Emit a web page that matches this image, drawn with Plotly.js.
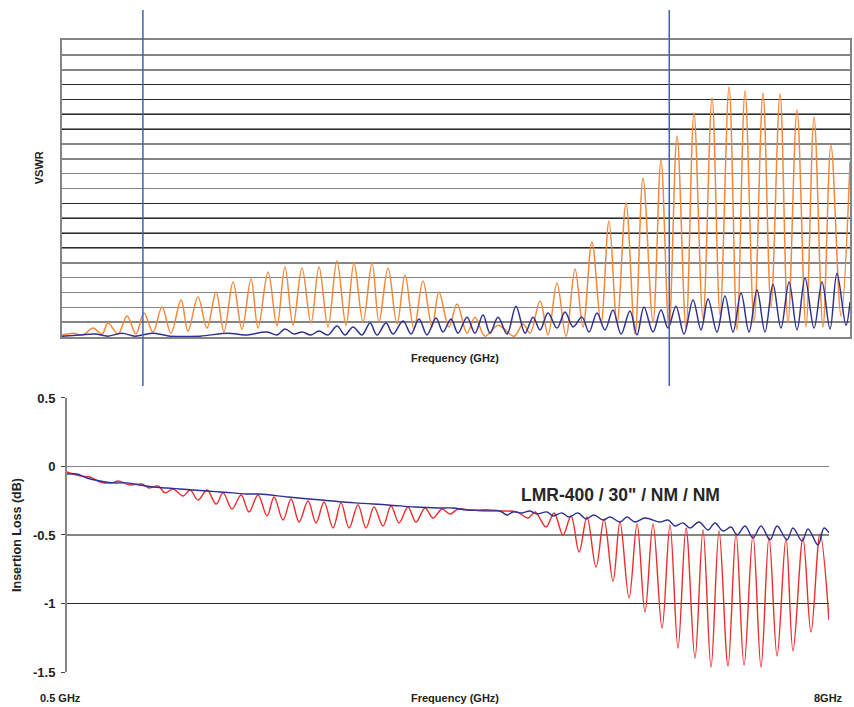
<!DOCTYPE html>
<html>
<head>
<meta charset="utf-8">
<script src="https://cdn.plot.ly/plotly-3.0.1.min.js"></script>
<style>html,body{margin:0;padding:0;background:#fff;}#chart{width:854px;height:707px;}</style>
</head>
<body>
<div id="chart"></div>
<script>
// ---- VSWR (top chart) ----
const F_VSWR_A = [0.500,0.605,0.700,0.795,0.881,0.938,1.033,1.119,1.204,1.280,
1.366,1.452,1.537,1.633,1.699,1.794,1.880,1.966,2.042,2.128,
2.213,2.299,2.366,2.461,2.546,2.622,2.699,2.784,2.870,2.946,
3.032,3.117,3.203,3.279,3.365,3.451,3.517,3.603,3.689,3.765,
3.850,3.936,4.022,4.088,4.183,4.260,4.355,4.431,4.526,4.650,
4.802,4.888,4.954,5.050,5.126,5.211,5.297,5.383,5.459,5.544,
5.630,5.706,5.783,5.868,5.954,6.030,6.125,6.201,6.277,6.354,
6.439,6.515,6.601,6.687,6.763,6.849,6.925,7.001,7.087,7.172,
7.248,7.334,7.410,7.496,7.581,7.658,7.743,7.819,7.915,8.000];
const VSWR_A = [1.007,1.013,1.007,1.030,1.010,1.047,1.010,1.071,1.010,1.081,
1.017,1.101,1.013,1.125,1.020,1.135,1.030,1.152,1.017,1.185,
1.027,1.195,1.030,1.219,1.037,1.236,1.040,1.232,1.047,1.236,
1.034,1.256,1.040,1.249,1.051,1.249,1.051,1.232,1.044,1.209,
1.027,1.189,1.034,1.152,1.034,1.111,1.013,1.067,1.003,1.040,
1.003,1.044,1.013,1.121,1.007,1.182,1.003,1.229,1.034,1.320,
1.047,1.391,1.047,1.451,1.010,1.535,1.051,1.596,1.030,1.677,
1.030,1.754,1.061,1.805,1.074,1.842,1.024,1.828,1.051,1.822,
1.101,1.818,1.047,1.764,1.034,1.741,1.034,1.646,1.071,1.589];

const F_VSWR_B = [0.500,0.671,0.814,0.938,1.071,1.195,1.357,1.528,1.813,2.080,
2.242,2.451,2.546,2.622,2.708,2.784,2.870,2.946,3.032,3.117,
3.194,3.270,3.355,3.432,3.498,3.584,3.650,3.746,3.822,3.898,
3.974,4.060,4.126,4.203,4.269,4.355,4.431,4.507,4.574,4.650,
4.736,4.821,4.907,4.983,5.050,5.126,5.211,5.288,5.364,5.449,
5.516,5.592,5.668,5.744,5.821,5.906,5.973,6.039,6.125,6.201,
6.268,6.344,6.420,6.506,6.582,6.649,6.734,6.810,6.887,6.963,
7.039,7.115,7.191,7.267,7.343,7.420,7.496,7.572,7.658,7.734,
7.810,7.876,7.962,8.000];
const VSWR_B = [1.003,1.007,1.010,1.003,1.013,1.003,1.013,1.003,1.003,1.013,
1.007,1.017,1.007,1.027,1.010,1.017,1.007,1.020,1.007,1.037,
1.007,1.034,1.007,1.047,1.007,1.047,1.010,1.054,1.010,1.061,
1.007,1.064,1.017,1.061,1.013,1.067,1.013,1.074,1.013,1.067,
1.010,1.104,1.013,1.067,1.024,1.081,1.030,1.084,1.034,1.067,
1.017,1.081,1.024,1.091,1.010,1.088,1.007,1.101,1.017,1.091,
1.030,1.104,1.010,1.125,1.024,1.128,1.017,1.138,1.017,1.148,
1.017,1.158,1.017,1.178,1.030,1.185,1.024,1.199,1.030,1.185,
1.027,1.215,1.040,1.118];

const MARKER_FREQS = [1.27, 6.28];

// ---- Insertion loss (bottom chart) ----
const F_IL_A = [0.500,0.628,0.726,0.825,0.943,1.002,1.120,1.238,1.307,1.396,
1.465,1.543,1.642,1.711,1.789,1.878,1.967,2.036,2.124,2.213,
2.291,2.380,2.469,2.538,2.626,2.705,2.784,2.872,2.951,3.030,
3.118,3.197,3.276,3.364,3.443,3.522,3.610,3.689,3.768,3.856,
3.935,4.024,4.103,4.191,4.270,4.349,4.467,4.634,4.762,4.929,
5.038,5.107,5.215,5.294,5.382,5.461,5.540,5.618,5.707,5.786,
5.874,5.943,6.032,6.111,6.189,6.268,6.357,6.435,6.514,6.593,
6.681,6.760,6.839,6.918,7.006,7.085,7.164,7.252,7.331,7.410,
7.489,7.577,7.646,7.744,7.823,7.912,8.000];
const IL_A = [-0.040,-0.069,-0.077,-0.113,-0.120,-0.106,-0.135,-0.128,-0.157,-0.142,
-0.193,-0.164,-0.215,-0.172,-0.245,-0.172,-0.274,-0.193,-0.310,-0.208,
-0.332,-0.208,-0.361,-0.223,-0.391,-0.237,-0.405,-0.252,-0.412,-0.259,
-0.449,-0.266,-0.449,-0.281,-0.449,-0.296,-0.434,-0.288,-0.412,-0.296,
-0.405,-0.303,-0.376,-0.310,-0.347,-0.310,-0.318,-0.325,-0.325,-0.332,
-0.376,-0.332,-0.442,-0.339,-0.500,-0.361,-0.624,-0.369,-0.734,-0.383,
-0.836,-0.405,-0.960,-0.420,-1.062,-0.420,-1.179,-0.427,-1.325,-0.449,
-1.398,-0.464,-1.464,-0.471,-1.456,-0.485,-1.449,-0.500,-1.464,-0.515,
-1.383,-0.522,-1.347,-0.522,-1.208,-0.493,-1.121];

const F_IL_B = [0.500,0.598,0.697,0.825,0.953,1.091,1.219,1.346,1.484,1.612,
1.740,1.878,2.006,2.134,2.272,2.400,2.675,3.010,3.335,3.660,
3.925,4.152,4.299,4.437,4.634,4.762,4.831,4.890,4.979,5.057,
5.126,5.225,5.284,5.372,5.441,5.530,5.609,5.687,5.776,5.845,
5.943,6.012,6.091,6.189,6.337,6.416,6.485,6.563,6.632,6.721,
6.809,6.878,6.957,7.036,7.095,7.174,7.252,7.331,7.420,7.489,
7.587,7.646,7.735,7.794,7.892,7.951,8.000];
const IL_B = [-0.055,-0.055,-0.084,-0.106,-0.120,-0.120,-0.135,-0.150,-0.157,-0.164,
-0.172,-0.179,-0.186,-0.193,-0.201,-0.201,-0.223,-0.245,-0.266,-0.281,
-0.296,-0.303,-0.303,-0.318,-0.318,-0.325,-0.354,-0.332,-0.339,-0.325,
-0.347,-0.332,-0.361,-0.339,-0.369,-0.339,-0.383,-0.354,-0.391,-0.369,
-0.405,-0.369,-0.405,-0.376,-0.405,-0.391,-0.434,-0.412,-0.449,-0.405,
-0.464,-0.412,-0.471,-0.442,-0.500,-0.434,-0.522,-0.434,-0.536,-0.434,
-0.536,-0.449,-0.544,-0.456,-0.573,-0.449,-0.485];

const IL_TICKS = [0.5, 0, -0.5, -1, -1.5];
const IL_TICKTEXT = ['0.5', '0', '-0.5', '-1', '-1.5'];

const FONT = 'Liberation Sans, Arial, Helvetica, sans-serif';
const GRAY = '#858585';
const DARK = '#2a2a2a';

const traces = [
  {x: F_VSWR_A, y: VSWR_A, xaxis: 'x', yaxis: 'y', mode: 'lines',
   line: {color: '#f5883a', width: 1.5, shape: 'spline', smoothing: 1}, hoverinfo: 'skip'},
  {x: F_VSWR_B, y: VSWR_B, xaxis: 'x', yaxis: 'y', mode: 'lines',
   line: {color: '#2e3192', width: 1.5, shape: 'spline', smoothing: 1}, hoverinfo: 'skip'},
  {x: [], y: [], xaxis: 'x', yaxis: 'y3', mode: 'lines', hoverinfo: 'skip'},
  {x: F_IL_A, y: IL_A, xaxis: 'x2', yaxis: 'y2', mode: 'lines',
   line: {color: '#ee2c2c', width: 1.4, shape: 'spline', smoothing: 1}, hoverinfo: 'skip'},
  {x: F_IL_B, y: IL_B, xaxis: 'x2', yaxis: 'y2', mode: 'lines',
   line: {color: '#2e3192', width: 1.4, shape: 'spline', smoothing: 1}, hoverinfo: 'skip'},
  {x: [], y: [], xaxis: 'x2', yaxis: 'y4', mode: 'lines', hoverinfo: 'skip'}
];

function ann(text, x, y, size, angle, color) {
  return {text: text, xref: 'paper', yref: 'paper', x: x, y: y,
    xanchor: 'center', yanchor: 'middle', showarrow: false, textangle: angle || 0,
    font: {family: FONT, size: size, color: color || '#222', weight: 'bold'}};
}

const layout = {
  width: 854, height: 707,
  margin: {l: 0, r: 0, t: 0, b: 0},
  paper_bgcolor: '#ffffff', plot_bgcolor: 'rgba(0,0,0,0)',
  showlegend: false,
  font: {family: FONT, color: '#222'},
  xaxis: {domain: [0.0726, 0.9953], range: [0.5, 8], anchor: 'y',
    showgrid: false, zeroline: false, showticklabels: false, ticks: '',
    showline: true, mirror: true, linecolor: GRAY, linewidth: 2, fixedrange: true},
  yaxis: {domain: [0.5233, 0.9434], range: [1, 2], anchor: 'x',
    tick0: 1, dtick: 0.05, showgrid: true, gridcolor: GRAY, gridwidth: 1.6,
    zeroline: false, showticklabels: false, ticks: '',
    showline: true, mirror: true, linecolor: GRAY, linewidth: 2, fixedrange: true},
  yaxis3: {overlaying: 'y', anchor: 'x', range: [1, 2],
    tickvals: [1.3, 1.35, 1.4, 1.45, 1.7, 1.75, 1.8, 1.85],
    showgrid: true, gridcolor: DARK, gridwidth: 1.1, zeroline: false,
    showticklabels: false, ticks: '', showline: false, fixedrange: true},
  xaxis2: {domain: [0.0785, 0.9707], range: [0.5, 8], anchor: 'y2',
    showgrid: false, zeroline: false, showticklabels: false, ticks: '',
    showline: false, fixedrange: true},
  yaxis2: {domain: [0.0495, 0.4371], range: [-1.5, 0.5], anchor: 'x2',
    tickvals: IL_TICKS, ticktext: IL_TICKTEXT,
    showgrid: true, gridcolor: GRAY, gridwidth: 1.8, zeroline: false,
    ticks: 'outside', ticklen: 4, tickcolor: '#444', tickwidth: 1,
    ticklabelstandoff: 3,
    tickfont: {family: FONT, size: 13, color: '#222', weight: 'bold'},
    showline: true, linecolor: GRAY, linewidth: 2, fixedrange: true},
  yaxis4: {overlaying: 'y2', anchor: 'x2', range: [-1.5, 0.5],
    tickvals: [0.5, -1], showgrid: true, gridcolor: DARK, gridwidth: 1.2,
    zeroline: false, showticklabels: false, ticks: '', showline: false, fixedrange: true},
  shapes: MARKER_FREQS.map(f => ({type: 'line', xref: 'x', yref: 'paper',
    x0: f, x1: f, y0: 0.454, y1: 0.986, layer: 'above',
    line: {color: '#3d62b0', width: 1.5}})),
  annotations: [
    ann('VSWR', 0.0457, 0.762, 11, -90),
    ann('Frequency (GHz)', 0.5328, 0.4936, 11, 0),
    ann('Insertion Loss (dB)', 0.0199, 0.2433, 12.5, -90),
    ann('0.5 GHz', 0.0714, 0.0127, 11, 0),
    ann('Frequency (GHz)', 0.5328, 0.0127, 11, 0),
    ann('8GHz', 0.9707, 0.0127, 11, 0),
    ann('LMR-400 / 30" / NM / NM', 0.726, 0.2999, 17.5, 0, '#262626')
  ]
};

Plotly.newPlot('chart', traces, layout, {displayModeBar: false, staticPlot: true});
</script>
</body>
</html>
